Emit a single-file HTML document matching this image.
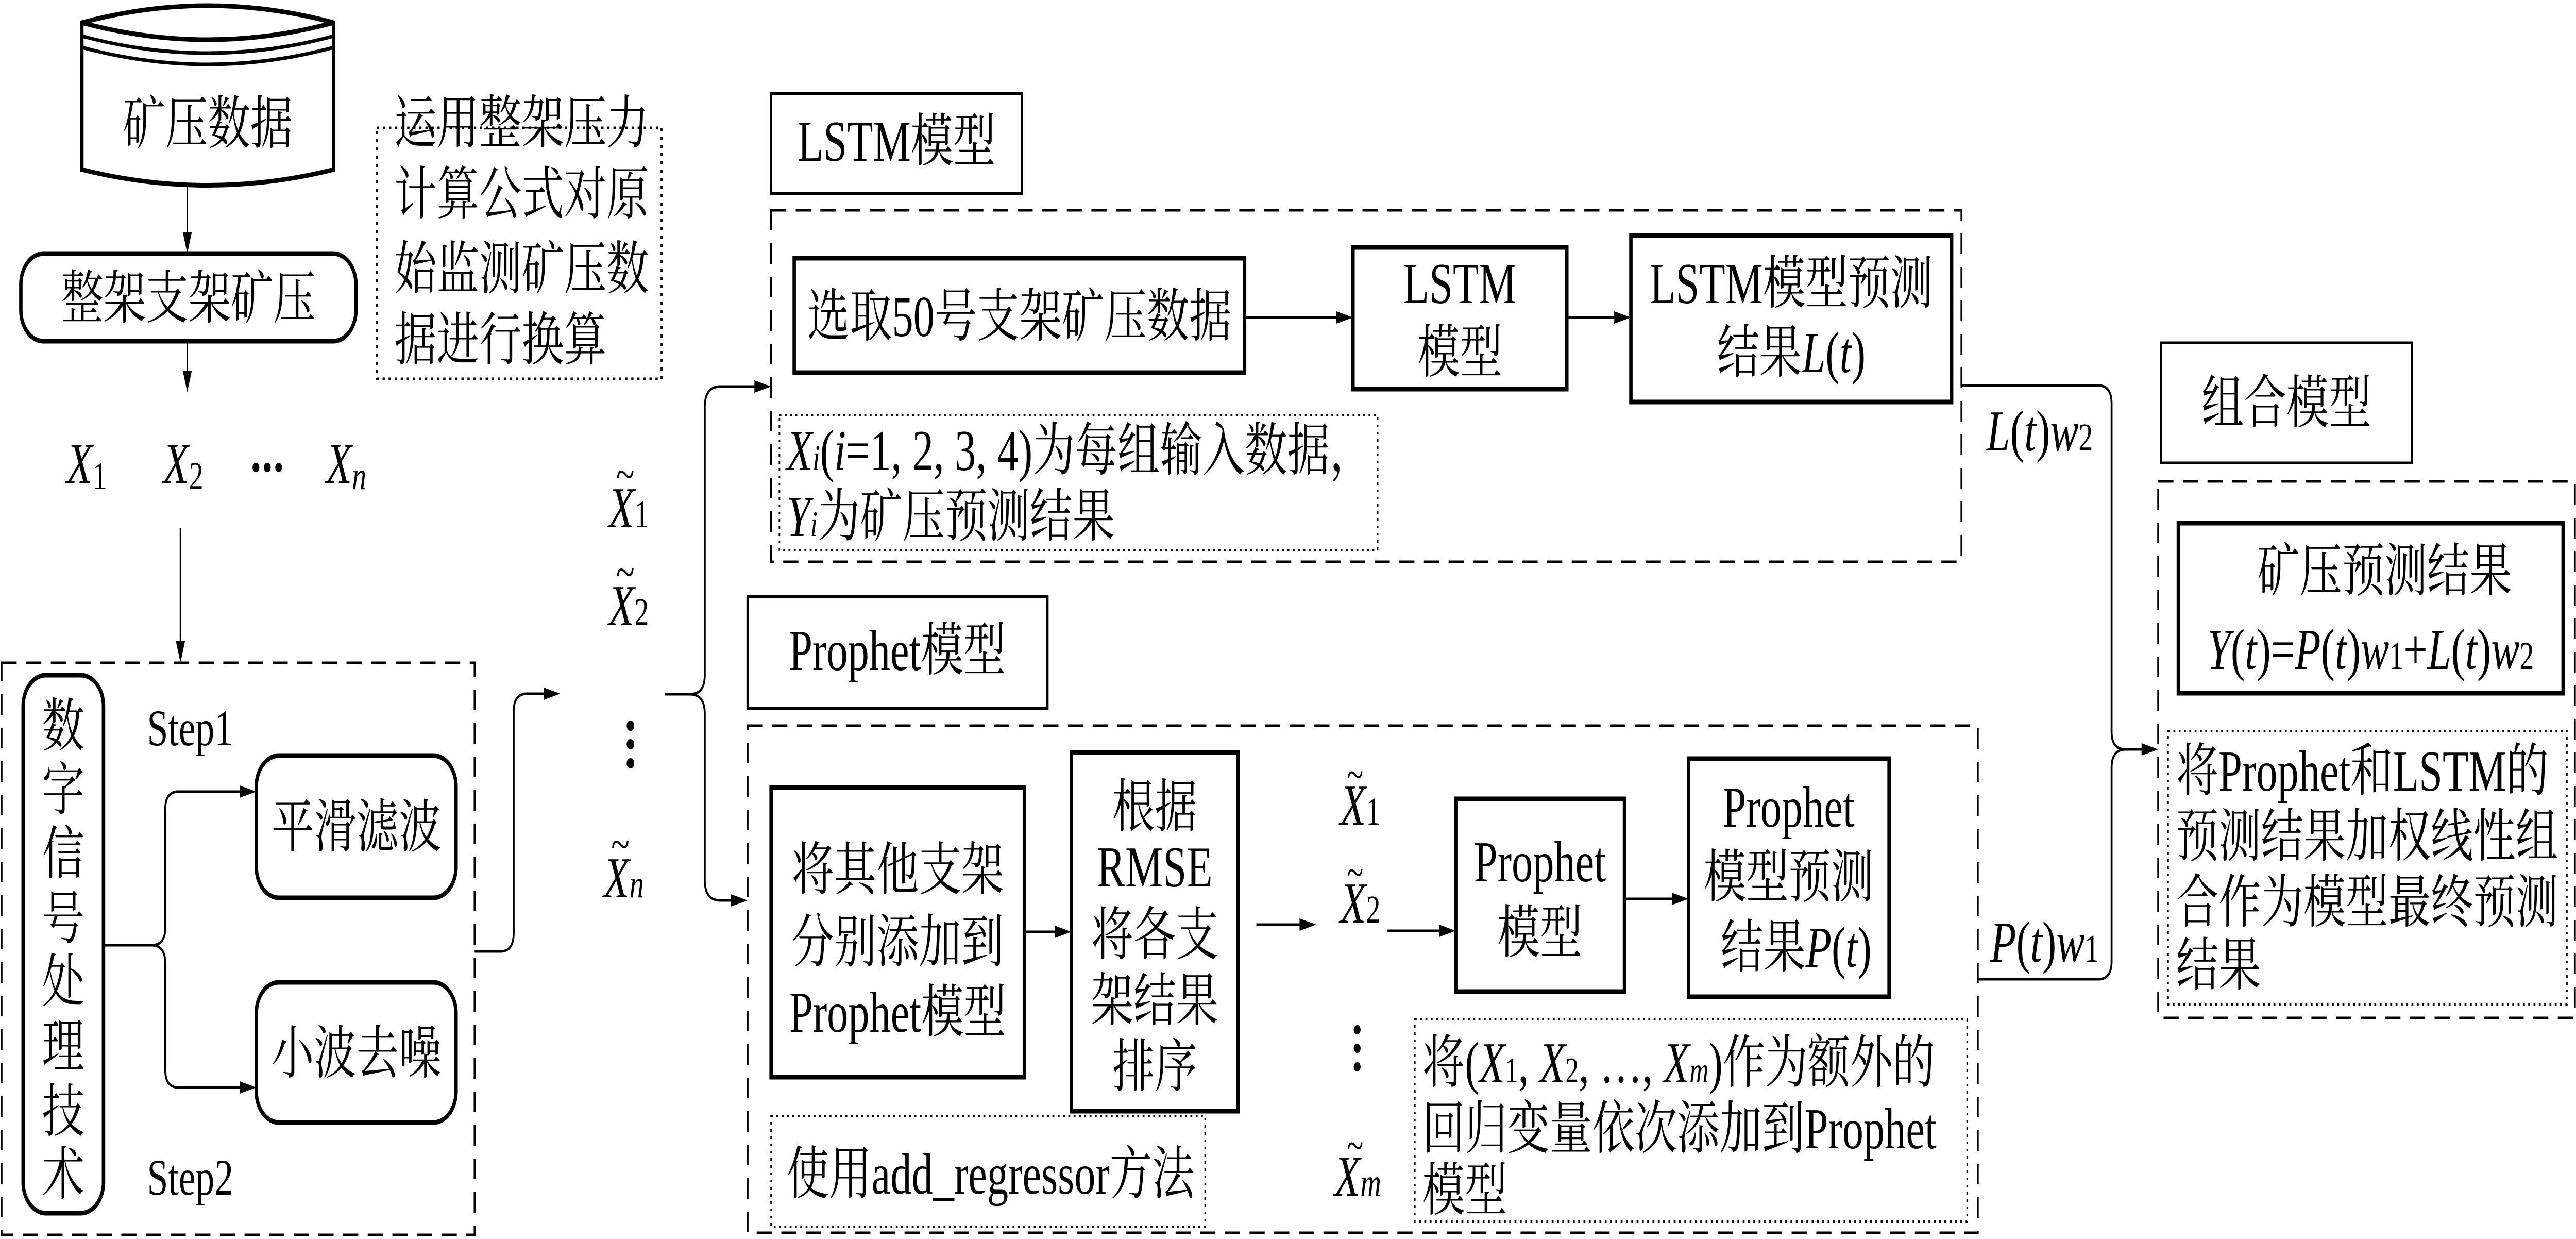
<!DOCTYPE html>
<html><head><meta charset="utf-8"><style>
html,body{margin:0;padding:0;background:#fff;overflow:hidden;width:100vw;height:100vh;}
svg{display:block;width:100vw;height:100vh;}
text{font-family:"Liberation Serif","Noto Serif CJK SC","Noto Sans CJK SC",serif;fill:#000;}
.t{font-size:112px;}
.i{font-style:italic;}
</style></head><body>
<svg viewBox="0 0 6795 2404" preserveAspectRatio="none" xmlns="http://www.w3.org/2000/svg">
<g fill="none" stroke="#000">
<path d="M216 44 Q548 -22 880 44 L880 329 Q548 390 216 329 Z" stroke-width="9"/>
<path d="M216 44 Q548 110 880 44" stroke-width="9"/>
<path d="M216 70 Q548 136 880 70" stroke-width="7"/>
<path d="M216 92 Q548 158 880 92" stroke-width="7"/>
<rect x="55" y="492" width="884" height="170" rx="60" stroke-width="9"/>
<line x1="494" y1="360" x2="494" y2="462" stroke-width="4"/>
<line x1="494" y1="662" x2="494" y2="728" stroke-width="4"/>
<rect x="994" y="248" width="751" height="487" stroke-width="5" stroke-dasharray="6 10"/>
<line x1="476" y1="1025" x2="476" y2="1252" stroke-width="4"/>
<rect x="4" y="1286" width="1248" height="1110" stroke-width="5" stroke-dasharray="40 25"/>
<rect x="61" y="1310" width="212" height="1044" rx="60" stroke-width="9"/>
<rect x="676" y="1466" width="527" height="276" rx="60" stroke-width="9"/>
<rect x="676" y="1906" width="527" height="272" rx="60" stroke-width="9"/>
<path d="M273 1834 L400 1834 Q436 1834 436 1800 L436 1570 Q436 1536 470 1536 L640 1536" stroke-width="5"/>
<path d="M400 1834 Q436 1834 436 1870 L436 2076 Q436 2110 470 2110 L640 2110" stroke-width="5"/>
<path d="M1252 1846 L1320 1846 Q1355 1846 1355 1810 L1355 1380 Q1355 1346 1390 1346 L1445 1346" stroke-width="5"/>
<path d="M1754 1347 L1820 1347 Q1859 1347 1859 1310 L1859 790 Q1859 750 1900 750 L1995 750" stroke-width="5"/>
<path d="M1820 1347 Q1859 1347 1859 1385 L1859 1707 Q1859 1747 1900 1747 L1935 1747" stroke-width="5"/>
<rect x="2034" y="181" width="662" height="194" stroke-width="6"/>
<rect x="2034" y="408" width="3140" height="682" stroke-width="5" stroke-dasharray="40 25"/>
<rect x="2095" y="501" width="1188" height="222" stroke-width="9"/>
<rect x="3569" y="480" width="564" height="275" stroke-width="9"/>
<rect x="4302" y="457" width="846" height="323" stroke-width="9"/>
<line x1="3283" y1="616" x2="3535" y2="616" stroke-width="5"/>
<line x1="4133" y1="616" x2="4268" y2="616" stroke-width="5"/>
<rect x="2056" y="806" width="1578" height="261" stroke-width="4" stroke-dasharray="5 9"/>
<rect x="1972" y="1158" width="791" height="216" stroke-width="6"/>
<rect x="1972" y="1408" width="3245" height="984" stroke-width="5" stroke-dasharray="40 25"/>
<rect x="2034" y="1528" width="668" height="562" stroke-width="9"/>
<rect x="2826" y="1460" width="440" height="696" stroke-width="9"/>
<rect x="3840" y="1550" width="445" height="374" stroke-width="9"/>
<rect x="4454" y="1472" width="529" height="462" stroke-width="9"/>
<line x1="2702" y1="1808" x2="2792" y2="1808" stroke-width="5"/>
<line x1="3314" y1="1794" x2="3438" y2="1794" stroke-width="5"/>
<line x1="3660" y1="1806" x2="3806" y2="1806" stroke-width="5"/>
<line x1="4285" y1="1744" x2="4420" y2="1744" stroke-width="5"/>
<rect x="2034" y="2166" width="1145" height="214" stroke-width="4" stroke-dasharray="5 9"/>
<rect x="3732" y="1978" width="1457" height="392" stroke-width="4" stroke-dasharray="5 9"/>
<path d="M5174 748 L5535 748 Q5570 748 5570 783 L5570 1420 Q5570 1454 5607 1454 L5660 1454" stroke-width="5"/>
<path d="M5217 1900 L5535 1900 Q5570 1900 5570 1865 L5570 1490 Q5570 1454 5607 1454" stroke-width="5"/>
<rect x="5700" y="665" width="662" height="233" stroke-width="5"/>
<rect x="5693" y="934" width="1099" height="1041" stroke-width="5" stroke-dasharray="40 25"/>
<rect x="5746" y="1015" width="1015" height="330" stroke-width="9"/>
<rect x="5719" y="1418" width="1052" height="531" stroke-width="4" stroke-dasharray="5 9"/>
</g>
<g fill="#000">
<polygon points="494,492 482,450 506,450"/>
<polygon points="494,761 482,719 506,719"/>
<polygon points="476,1286 464,1244 488,1244"/>
<polygon points="676,1536 632,1524 632,1548"/>
<polygon points="676,2110 632,2098 632,2122"/>
<polygon points="1478,1346 1434,1334 1434,1358"/>
<polygon points="2034,750 1990,738 1990,762"/>
<polygon points="1972,1747 1928,1735 1928,1759"/>
<polygon points="3569,616 3525,604 3525,628"/>
<polygon points="4302,616 4258,604 4258,628"/>
<polygon points="2826,1808 2782,1796 2782,1820"/>
<polygon points="3472,1794 3428,1782 3428,1806"/>
<polygon points="3840,1806 3796,1794 3796,1818"/>
<polygon points="4454,1744 4410,1732 4410,1756"/>
<polygon points="5693,1454 5649,1442 5649,1466"/>
<circle cx="1663" cy="1408" r="10"/><circle cx="1663" cy="1444" r="10"/><circle cx="1663" cy="1481" r="10"/>
<circle cx="3580" cy="1998" r="9"/><circle cx="3580" cy="2034" r="9"/><circle cx="3580" cy="2070" r="9"/>
<circle cx="675" cy="907" r="9"/><circle cx="705" cy="907" r="9"/><circle cx="735" cy="907" r="9"/>
</g>
<g class="t">
<text x="548" y="278" text-anchor="middle">矿压数据</text>
<text x="497" y="617" text-anchor="middle">整架支架矿压</text>
<text x="1040" y="277">运用整架压力</text>
<text x="1040" y="415">计算公式对原</text>
<text x="1040" y="560">始监测矿压数</text>
<text x="1040" y="698">据进行换算</text>
<text x="176" y="937" class="i">X<tspan font-size="76" font-style="normal" dy="12">1</tspan></text>
<text x="430" y="937" class="i">X<tspan font-size="76" font-style="normal" dy="12">2</tspan></text>
<text x="860" y="937" class="i">X<tspan font-size="76" dy="12">n</tspan></text>
<text x="167" y="1447" text-anchor="middle">数</text>
<text x="167" y="1571" text-anchor="middle">字</text>
<text x="167" y="1695" text-anchor="middle">信</text>
<text x="167" y="1821" text-anchor="middle">号</text>
<text x="167" y="1943" text-anchor="middle">处</text>
<text x="167" y="2069" text-anchor="middle">理</text>
<text x="167" y="2195" text-anchor="middle">技</text>
<text x="167" y="2317" text-anchor="middle">术</text>
<text x="388" y="1446" font-size="100">Step1</text>
<text x="388" y="2318" font-size="100">Step2</text>
<text x="940" y="1643" text-anchor="middle">平滑滤波</text>
<text x="940" y="2082" text-anchor="middle">小波去噪</text>
<text x="1605" y="1023" class="i">X<tspan font-size="76" font-style="normal">1</tspan></text>
<text x="1625" y="950" font-size="90">~</text>
<text x="1605" y="1213" class="i">X<tspan font-size="76" font-style="normal">2</tspan></text>
<text x="1625" y="1140" font-size="90">~</text>
<text x="1592" y="1741" class="i">X<tspan font-size="76">n</tspan></text>
<text x="1612" y="1668" font-size="90">~</text>
<text x="2365" y="312" text-anchor="middle">LSTM模型</text>
<text x="2689" y="652" text-anchor="middle">选取50号支架矿压数据</text>
<text x="3851" y="588" text-anchor="middle">LSTM</text>
<text x="3851" y="722" text-anchor="middle">模型</text>
<text x="4725" y="588" text-anchor="middle">LSTM模型预测</text>
<text x="4725" y="722" text-anchor="middle">结果<tspan class="i">L</tspan>(<tspan class="i">t</tspan>)</text>
<text x="2075" y="912"><tspan class="i">X</tspan><tspan class="i" font-size="70">i</tspan>(<tspan class="i">i</tspan>=1, 2, 3, 4)为每组输入数据，</text>
<text x="2075" y="1040"><tspan class="i">Y</tspan><tspan class="i" font-size="70">i</tspan>为矿压预测结果</text>
<text x="2367" y="1300" text-anchor="middle">Prophet模型</text>
<text x="2368" y="1726" text-anchor="middle">将其他支架</text>
<text x="2368" y="1866" text-anchor="middle">分别添加到</text>
<text x="2368" y="2002" text-anchor="middle">Prophet模型</text>
<text x="3046" y="1604" text-anchor="middle">根据</text>
<text x="3046" y="1720" text-anchor="middle">RMSE</text>
<text x="3046" y="1852" text-anchor="middle">将各支</text>
<text x="3046" y="1980" text-anchor="middle">架结果</text>
<text x="3046" y="2108" text-anchor="middle">排序</text>
<text x="3535" y="1600" class="i">X<tspan font-size="76" font-style="normal">1</tspan></text>
<text x="3553" y="1530" font-size="80">~</text>
<text x="3535" y="1790" class="i">X<tspan font-size="76" font-style="normal">2</tspan></text>
<text x="3553" y="1720" font-size="80">~</text>
<text x="3520" y="2320" class="i">X<tspan font-size="76">m</tspan></text>
<text x="3553" y="2250" font-size="80">~</text>
<text x="4062" y="1710" text-anchor="middle">Prophet</text>
<text x="4062" y="1848" text-anchor="middle">模型</text>
<text x="4718" y="1604" text-anchor="middle">Prophet</text>
<text x="4718" y="1740" text-anchor="middle">模型预测</text>
<text x="4738" y="1876" text-anchor="middle">结果<tspan class="i">P</tspan>(<tspan class="i">t</tspan>)</text>
<text x="2075" y="2316">使用add_regressor方法</text>
<text x="3752" y="2100">将(<tspan class="i">X</tspan><tspan font-size="70">1</tspan>, <tspan class="i">X</tspan><tspan font-size="70">2</tspan>, …, <tspan class="i">X</tspan><tspan class="i" font-size="70">m</tspan>)作为额外的</text>
<text x="3752" y="2228">回归变量依次添加到Prophet</text>
<text x="3752" y="2348">模型</text>
<text x="5240" y="874"><tspan class="i">L</tspan>(<tspan class="i">t</tspan>)<tspan class="i">w</tspan><tspan font-size="76">2</tspan></text>
<text x="5250" y="1866"><tspan class="i">P</tspan>(<tspan class="i">t</tspan>)<tspan class="i">w</tspan><tspan font-size="76">1</tspan></text>
<text x="6031" y="820" text-anchor="middle">组合模型</text>
<text x="6290" y="1146" text-anchor="middle">矿压预测结果</text>
<text x="6253" y="1298" text-anchor="middle"><tspan class="i">Y</tspan>(<tspan class="i">t</tspan>)=<tspan class="i">P</tspan>(<tspan class="i">t</tspan>)<tspan class="i">w</tspan><tspan font-size="76">1</tspan>+<tspan class="i">L</tspan>(<tspan class="i">t</tspan>)<tspan class="i">w</tspan><tspan font-size="76">2</tspan></text>
<text x="5740" y="1534">将Prophet和LSTM的</text>
<text x="5740" y="1661">预测结果加权线性组</text>
<text x="5740" y="1789">合作为模型最终预测</text>
<text x="5740" y="1911">结果</text>
</g>
</svg>
</body></html>
